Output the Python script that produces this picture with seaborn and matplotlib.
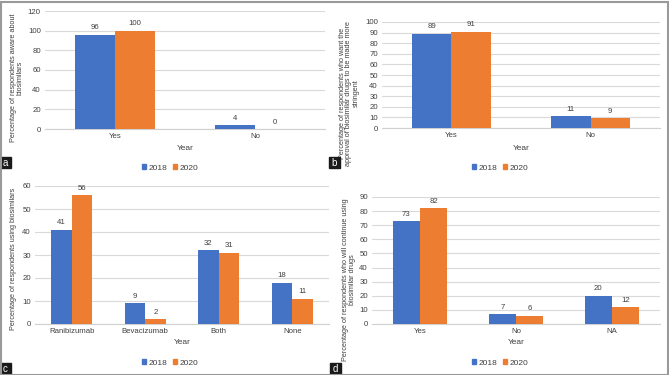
import matplotlib
matplotlib.use("Agg")
import matplotlib.pyplot as plt
import seaborn as sns
import pandas as pd
from matplotlib.patches import Rectangle

sns.set_theme(style="white")
plt.rcParams['font.family'] = ['Liberation Sans', 'DejaVu Sans']

years = ["2018", "2020"]
colors = ["#4472C4", "#ED7D31"]

cats_a = ["Yes", "No"]
a_2018 = [96, 4]
a_2020 = [100, 0]

cats_b = ["Yes", "No"]
b_2018 = [89, 11]
b_2020 = [91, 9]

cats_c = ["Ranibizumab", "Bevacizumab", "Both", "None"]
c_2018 = [41, 9, 32, 18]
c_2020 = [56, 2, 31, 11]

cats_d = ["Yes", "No", "NA"]
d_2018 = [73, 7, 20]
d_2020 = [82, 6, 12]

ylabel_a = "Percentage of respondents aware about\nbiosimilars"
ylabel_b = "Percentage of respondents who want the\napproval of biosimilar drugs to be made more\nstringent"
ylabel_c = "Percentage of respondents using biosimilars"
ylabel_d = "Percentage of respondents who will continue using\nbiosimilar drugs"

W, H = 669, 375
fig = plt.figure(figsize=(W / 100, H / 100), dpi=100)

def px_axes(x0, x1, ytop, ybot):
    return fig.add_axes([x0 / W, (H - ybot) / H, (x1 - x0) / W, (ybot - ytop) / H])

def panel(ax, cats, v18, v20, ymax, ystep, ylabel, ylab_x, ylab_y, leg_x, leg_y, xlab_y, width):
    df = pd.DataFrame({
        "cat": cats * 2,
        "val": list(v18) + list(v20),
        "Year": [years[0]] * len(cats) + [years[1]] * len(cats),
    })
    sns.barplot(data=df, x="cat", y="val", hue="Year", palette=colors, ax=ax,
                width=width, saturation=1, legend=False, errorbar=None, zorder=3,
                linewidth=0, edgecolor="none")
    ax.set_ylim(0, ymax)
    ax.set_yticks(range(0, ymax + 1, ystep))
    ax.yaxis.grid(True, color="#D9D9D9", linewidth=0.8, zorder=0)
    ax.set_axisbelow(True)
    for s in ["top", "right", "left"]:
        ax.spines[s].set_visible(False)
    ax.spines["bottom"].set_color("#D0D0D0")
    ax.spines["bottom"].set_linewidth(0.8)
    ax.tick_params(axis="both", length=0, labelsize=5.6, colors="#404040", pad=3)
    ax.set_xlabel("")
    ax.set_ylabel("")
    for cont in ax.containers:
        ax.bar_label(cont, fontsize=5.6, color="#404040", padding=2.5)
    fig.text(ylab_x / W, 1 - ylab_y / H, ylabel, rotation=90, ha="center", va="center",
             fontsize=5.2, color="#404040", linespacing=1.0)
    fig.text((ax.get_position().x0 + ax.get_position().x1) / 2, 1 - xlab_y / H, "Year",
             ha="center", va="center", fontsize=6, color="#404040")
    handles = [Rectangle((0, 0), 1, 1, color=c) for c in colors]
    ax.legend(handles, years, loc="center", bbox_to_anchor=(leg_x / W, 1 - leg_y / H),
              bbox_transform=fig.transFigure, ncol=2, frameon=False, fontsize=6,
              handlelength=0.5, handleheight=0.5, handletextpad=0.3, columnspacing=0.6,
              labelcolor="#404040")

ax_a = px_axes(45, 325, 11, 129)
panel(ax_a, cats_a, a_2018, a_2020, 120, 20, ylabel_a, 17, 78, 170, 168, 149, 0.57)

ax_b = px_axes(382, 660, 22, 128)
panel(ax_b, cats_b, b_2018, b_2020, 100, 10, ylabel_b, 349, 93, 500, 168, 148, 0.57)

ax_c = px_axes(35, 329, 186, 324)
panel(ax_c, cats_c, c_2018, c_2020, 60, 10, ylabel_c, 14, 259, 170, 363, 343, 0.56)

ax_d = px_axes(372, 660, 197, 324)
panel(ax_d, cats_d, d_2018, d_2020, 90, 10, ylabel_d, 349, 280, 500, 363, 343, 0.57)

# panel letters
for lx, ly, letter in [(0, 157, "a"), (329, 157, "b"), (0, 363, "c"), (330, 363, "d")]:
    fig.patches.append(Rectangle((lx / W, 1 - (ly + 11) / H), 11 / W, 11 / H,
                                 transform=fig.transFigure, color="#1a1a1a", zorder=5))
    fig.text((lx + 5.5) / W, 1 - (ly + 5.5) / H, letter, color="white", fontsize=7,
             ha="center", va="center", zorder=6)

# outer frame
fig.patches.append(Rectangle((0.5 / W, 0.5 / H), 1 - 2 / W, 1 - 2 / H, transform=fig.transFigure,
                             fill=False, edgecolor="#999999", linewidth=1.5, zorder=10))

fig.savefig("out.png", dpi=100, facecolor="white")
